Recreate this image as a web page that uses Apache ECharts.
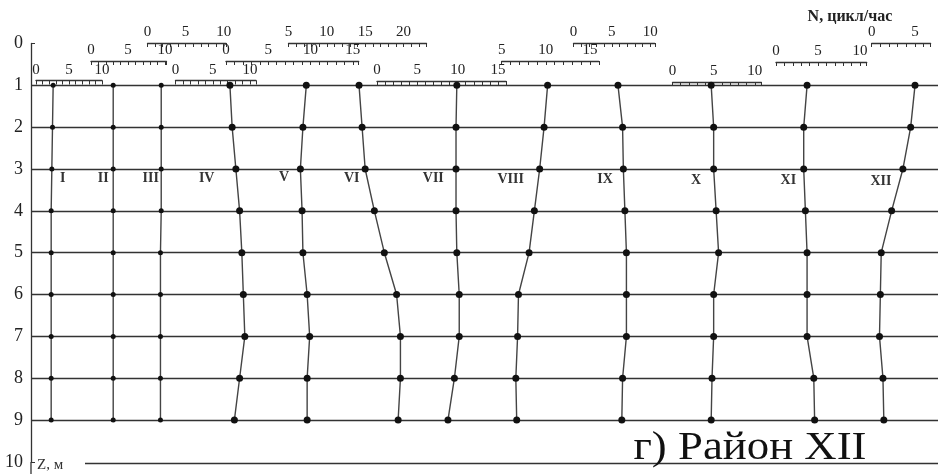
<!DOCTYPE html>
<html>
<head>
<meta charset="utf-8">
<script src="https://cdn.jsdelivr.net/npm/echarts@6/dist/echarts.min.js"></script>
<style>
  html, body { margin: 0; padding: 0; background: #fff; }
  #chart { width: 938px; height: 474px; }
</style>
</head>
<body>
<div id="chart"></div>
<script>
// глубины, м
var depths = [1, 2, 3, 4, 5, 6, 7, 8, 9];
var depthTicks = [0, 1, 2, 3, 4, 5, 6, 7, 8, 9, 10];
// профили
var profiles = ['I', 'II', 'III', 'IV', 'V', 'VI', 'VII', 'VIII', 'IX', 'X', 'XI', 'XII'];
// N, цикл/час по глубинам 1..9
var nI = [2.6, 2.5, 2.4, 2.3, 2.3, 2.3, 2.3, 2.3, 2.3];
var nII = [3.0, 3.0, 3.0, 3.0, 3.0, 3.0, 3.0, 3.0, 3.0];
var nIII = [1.8, 1.8, 1.8, 1.8, 1.7, 1.7, 1.7, 1.7, 1.7];
var nIV = [7.3, 7.6, 8.1, 8.6, 8.9, 9.1, 9.3, 8.6, 7.9];
var nV = [9.5, 9.1, 8.8, 9.0, 9.1, 9.6, 9.9, 9.6, 9.6];
var nVI = [14.2, 14.6, 15.0, 16.2, 17.5, 19.1, 19.6, 19.6, 19.3];
var nVII = [9.9, 9.8, 9.8, 9.8, 9.9, 10.2, 10.2, 9.6, 8.8];
var nVIII = [10.2, 9.8, 9.3, 8.7, 8.1, 6.9, 6.8, 6.6, 6.7];
var nIX = [5.8, 6.4, 6.5, 6.7, 6.9, 6.9, 6.9, 6.4, 6.3];
var nX = [4.7, 5.0, 5.0, 5.3, 5.6, 5.0, 5.0, 4.8, 4.7];
var nXI = [3.7, 3.3, 3.3, 3.5, 3.7, 3.7, 3.7, 4.5, 4.6];
var nXII = [5.0, 4.5, 3.6, 2.3, 1.1, 1.0, 0.9, 1.3, 1.4];
var nAll = [nI, nII, nIII, nIV, nV, nVI, nVII, nVIII, nIX, nX, nXI, nXII];
// шкалы N для каждого профиля
var scaleMin = [0, 0, 0, 0, 0, 5, 0, 5, 0, 0, 0, 0];
var scaleMax = [10, 10.2, 10.3, 10.8, 15.7, 23, 16, 16, 10.6, 10.8, 10.8, 6.8];

// раскладка (пиксели): начало и конец шкалы, высота шкалы
var scaleLeft = [36, 91, 147.5, 175.5, 226, 288.5, 377, 501.7, 573.5, 672.5, 776, 871.7];
var scaleRight = [102, 166.5, 226, 256, 358.7, 426.5, 506, 598.8, 654.8, 761.4, 866.7, 930.6];
var scaleY = [80.5, 61, 43, 80.5, 61, 43, 81, 61, 43, 82, 62, 43];
var labelX = [62.7, 103.3, 150.7, 206.7, 284, 351.7, 433.3, 510.7, 605, 696, 788.3, 881];
var labelY = [178, 178, 178, 178, 177, 178, 178, 179, 179, 180, 180, 181.5];

var gridTop = 43.5, gridH = 418.4;
var serif = 'Liberation Serif';
var ink = '#333';

var chart = echarts.init(document.getElementById('chart'));

var grids = [{ left: 31, right: 0, top: gridTop, height: gridH, outerBoundsMode: 'none' }];
var xAxes = [{ gridIndex: 0, type: 'value', min: 0, max: 1, show: false }];
var yAxes = [{
    gridIndex: 0, type: 'value', min: 0, max: 10, interval: 1, inverse: true,
    axisLine: { show: true, lineStyle: { color: ink, width: 1.3 } },
    axisTick: { show: true, inside: true, length: 4, lineStyle: { color: ink } },
    axisLabel: {
        fontFamily: serif, fontSize: 18, color: '#222', margin: 8,
        formatter: function (v) { return depthTicks.indexOf(v) >= 0 ? String(v) : ''; }
    },
    splitLine: { show: true, showMinLine: false, showMaxLine: false, lineStyle: { color: ink, width: 1.3 } }
}];
var series = [];
var graphics = [];

profiles.forEach(function (name, i) {
    grids.push({
        left: scaleLeft[i], width: scaleRight[i] - scaleLeft[i],
        top: gridTop, height: gridH, outerBoundsMode: 'none'
    });
    xAxes.push({
        gridIndex: i + 1, type: 'value', position: 'top',
        min: scaleMin[i], max: scaleMax[i], interval: 1,
        offset: gridTop - scaleY[i],
        axisLine: { show: true, onZero: false, lineStyle: { color: ink, width: 1.3 } },
        axisTick: { show: true, inside: true, length: 4, lineStyle: { color: ink, width: 1 } },
        axisLabel: {
            fontFamily: serif, fontSize: 15, color: '#222', margin: 3,
            formatter: function (v) { return v % 5 === 0 ? String(v) : ''; }
        },
        splitLine: { show: false }
    });
    yAxes.push({ gridIndex: i + 1, type: 'value', min: 0, max: 10, inverse: true, show: false });
    series.push({
        name: name, type: 'line', xAxisIndex: i + 1, yAxisIndex: i + 1,
        data: nAll[i].map(function (v, k) { return [v, depths[k]]; }),
        symbol: 'circle', symbolSize: i < 3 ? 5 : 7, clip: false,
        itemStyle: { color: '#111' },
        lineStyle: { color: '#444', width: 1.4 },
        animation: false, silent: true
    });
    graphics.push({
        type: 'text', x: labelX[i], y: labelY[i],
        style: { text: name, fontFamily: serif, fontSize: 14, fontWeight: 'bold', fill: '#333', align: 'center', verticalAlign: 'middle' }
    });
});

graphics.push(
    { type: 'line', shape: { x1: 31, y1: gridTop + gridH, x2: 31, y2: 474 }, style: { stroke: ink, lineWidth: 1.3 } },
    { type: 'line', shape: { x1: 85, y1: 463.5, x2: 938, y2: 463.5 }, style: { stroke: ink, lineWidth: 1.3 } },
    { type: 'text', x: 37, y: 465, style: { text: 'Z, м', fontFamily: serif, fontSize: 15, fill: '#333', verticalAlign: 'middle' } },
    { type: 'text', x: 850, y: 17, style: { text: 'N, цикл/час', fontFamily: serif, fontSize: 16, fontWeight: 'bold', fill: '#222', align: 'center', verticalAlign: 'middle' } },
    { type: 'text', x: 750, y: 448.5, scaleX: 1.12, z: 10, style: { text: 'г) Район XII', fontFamily: serif, fontSize: 40, fill: '#111', align: 'center', verticalAlign: 'middle' } }
);

var option = {
    backgroundColor: '#fff',
    animation: false,
    grid: grids,
    xAxis: xAxes,
    yAxis: yAxes,
    series: series,
    graphic: graphics
};
chart.setOption(option);
</script>
</body>
</html>
